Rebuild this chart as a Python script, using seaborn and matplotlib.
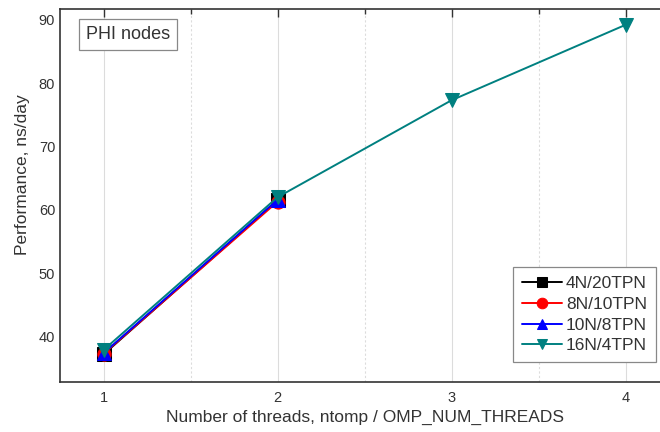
import numpy as np
import pandas as pd
import matplotlib
matplotlib.use("Agg")
import matplotlib.pyplot as plt
from matplotlib.ticker import MultipleLocator
import seaborn as sns

# ---- data ----
configs = ["4N/20TPN", "8N/10TPN", "10N/8TPN", "16N/4TPN"]
threads_short = [1, 2]
threads_long = [1, 2, 3, 4]
perf_4n = [37.2, 61.5]
perf_8n = [37.3, 61.3]
perf_10n = [37.4, 61.6]
perf_16n = [37.9, 62.0, 77.3, 89.2]
colors = ["#000000", "#ff0000", "#0000ff", "#008080"]
marker_list = ["s", "o", "^", "v"]

rows = []
for cfg, xs, ys in zip(configs,
                       [threads_short, threads_short, threads_short, threads_long],
                       [perf_4n, perf_8n, perf_10n, perf_16n]):
    for x, y in zip(xs, ys):
        rows.append({"threads": x, "perf": y, "config": cfg})
df = pd.DataFrame(rows)

sns.set_style("white")
plt.rcParams["font.family"] = ["Liberation Sans", "DejaVu Sans"]

fig = plt.figure(figsize=(6.6, 4.32), dpi=100)
ax = fig.add_axes([60/660, (432-381.7)/432, 609/660, (381.7-9)/432])

sns.lineplot(data=df, x="threads", y="perf", hue="config", style="config",
             hue_order=configs, style_order=configs,
             palette=colors, markers=marker_list, dashes=False,
             markersize=9.5, linewidth=1.4, legend=False, ax=ax)

for line, c in zip(ax.lines, colors):
    line.set_markeredgecolor(c)
    line.set_markerfacecolor(c)

ax.set_xlim(0.75, 4.25)
ax.set_ylim(32.9, 91.7)
ax.xaxis.set_major_locator(MultipleLocator(1))
ax.xaxis.set_minor_locator(MultipleLocator(0.5))
ax.yaxis.set_major_locator(MultipleLocator(10))
ax.yaxis.set_minor_locator(MultipleLocator(5))

ax.grid(False)
ax.grid(True, axis="x", which="major", color="#dcdcdc", linewidth=0.8, linestyle="-")
ax.grid(True, axis="x", which="minor", color="#dcdcdc", linewidth=0.8, linestyle=(0, (2, 2)))
ax.set_axisbelow(True)

ax.tick_params(axis="both", which="major", direction="in", length=6, width=1,
               top=True, right=True, labelsize=10.5, colors="#333333", labelcolor="#333333")
ax.tick_params(axis="both", which="minor", direction="in", length=3.5, width=1,
               top=True, right=True, colors="#333333")
ax.tick_params(axis="x", pad=7)
for s in ax.spines.values():
    s.set_color("#333333")
    s.set_linewidth(1.2)

ax.set_xlabel("Number of threads, ntomp / OMP_NUM_THREADS", fontsize=12.5, color="#333333", labelpad=3)
ax.set_ylabel("Performance, ns/day", fontsize=12.5, color="#333333", labelpad=6)
ax.yaxis.label.set_y((381.7 - 175) / 372.7)

leg = ax.legend(ax.lines[:4], configs, loc="upper left",
                bbox_to_anchor=(513/660, 1 - 267/432), bbox_transform=fig.transFigure,
                fontsize=12.5, frameon=True, fancybox=False, framealpha=1,
                edgecolor="#888888", handlelength=2.3, handletextpad=0.25,
                labelspacing=0.33, borderpad=0.5, borderaxespad=0,
                markerscale=0.8)
leg.get_frame().set_linewidth(0.9)
for t in leg.get_texts():
    t.set_color("#333333")

fig.text(128/660, 1 - 34.5/432, "PHI nodes", fontsize=13, color="#333333",
         ha="center", va="center",
         bbox=dict(boxstyle="square,pad=0.4", facecolor="white", edgecolor="#888888", linewidth=0.9))

fig.savefig("out.png", dpi=100)
